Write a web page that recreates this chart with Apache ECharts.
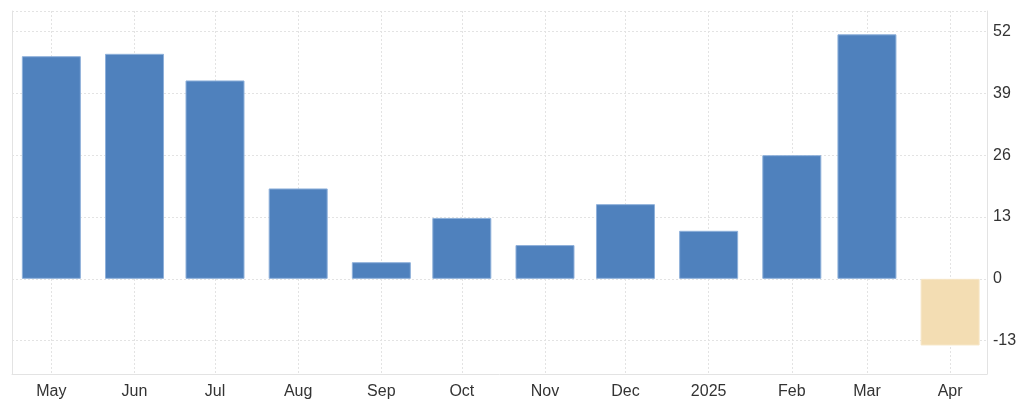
<!DOCTYPE html>
<html>
<head>
<meta charset="utf-8">
<script src="https://cdn.jsdelivr.net/npm/echarts@6/dist/echarts.min.js"></script>
<style>html,body{margin:0;padding:0;background:#fff;}#c{width:1024px;height:401px;}</style>
</head>
<body>
<div id="c"></div>
<script>
const categories = ['May','Jun','Jul','Aug','Sep','Oct','Nov','Dec','2025','Feb','Mar','Apr'];
const dates = ['2024-05-01','2024-06-01','2024-07-01','2024-08-01','2024-09-01','2024-10-01','2024-11-01','2024-12-01','2025-01-01','2025-02-01','2025-03-01','2025-04-01'];
const values = [46.8, 47.3, 41.7, 19.0, 3.5, 12.8, 7.1, 15.7, 10.1, 26.0, 51.4, -14.0];
const yTicks = [-13, 0, 13, 26, 39, 52];
const yMin = -20;
const yMax = 56.3;
const xMinDate = '2024-04-16T08:00:00Z';
const xMaxDate = '2025-04-14T18:00:00Z';

const DAY = 86400000;
function dayNum(d) { return Date.parse(d.length === 10 ? d + 'T00:00:00Z' : d) / DAY; }
const dateDays = dates.map(dayNum);

const chart = echarts.init(document.getElementById('c'), null, {renderer: 'canvas'});
const gridColor = '#e3e3e3';
chart.setOption({
  animation: false,
  backgroundColor: '#fff',
  grid: {left: 12, right: 37, top: 11, bottom: 27, containLabel: false},
  xAxis: {
    type: 'value',
    min: dayNum(xMinDate),
    max: dayNum(xMaxDate),
    axisLine: {show: true, onZero: false, lineStyle: {color: gridColor, width: 1}},
    axisTick: {show: false, customValues: dateDays},
    axisLabel: {
      customValues: dateDays,
      color: '#333', fontSize: 16, fontFamily: 'Liberation Sans, Arial, sans-serif', margin: 10,
      hideOverlap: false,
      formatter: function (v) {
        let best = 0;
        for (let i = 1; i < dateDays.length; i++) {
          if (Math.abs(dateDays[i] - v) < Math.abs(dateDays[best] - v)) best = i;
        }
        return categories[best];
      }
    },
    splitLine: {show: true, lineStyle: {color: gridColor, type: [2, 2], width: 1}}
  },
  yAxis: [{
    type: 'value',
    position: 'right',
    min: yMin, max: yMax,
    axisLine: {show: true, lineStyle: {color: gridColor, width: 1}},
    axisTick: {show: false, customValues: yTicks.concat([yMax])},
    axisLabel: {customValues: yTicks, color: '#333', fontSize: 16, fontFamily: 'Liberation Sans, Arial, sans-serif', margin: 6},
    splitLine: {show: true, lineStyle: {color: gridColor, type: [2, 2], width: 1}}
  }, {
    type: 'value',
    position: 'left',
    min: yMin, max: yMax,
    axisLine: {show: true, lineStyle: {color: gridColor, width: 1}},
    axisTick: {show: false},
    axisLabel: {show: false},
    splitLine: {show: false}
  }],
  series: [{
    type: 'bar',
    yAxisIndex: 0,
    data: dates.map((d, i) => ({
      value: [dateDays[i], values[i]],
      itemStyle: {color: values[i] < 0 ? '#f3ddb3' : '#4f81bd', borderColor: values[i] < 0 ? '#f6e6c6' : '#8eb0da', borderWidth: 1}
    })),
    barWidth: 59
  }]
});
</script>
</body>
</html>
